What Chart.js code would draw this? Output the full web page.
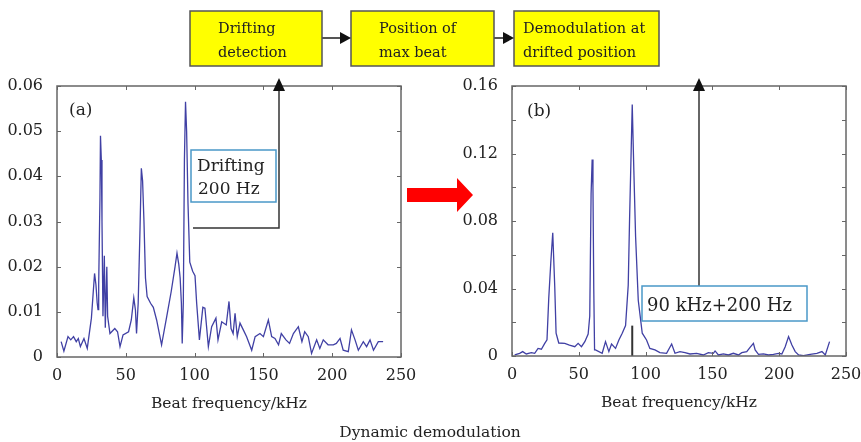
<!DOCTYPE html>
<html lang="en">
<head>
<meta charset="UTF-8">
<title>Dynamic demodulation</title>
<script src="https://cdn.jsdelivr.net/npm/chart.js"></script>
<style>
    body { margin: 0; background: #fff; }
    #wrap { position: relative; width: 861px; height: 442px; overflow: hidden; }
    #wrap canvas { position: absolute; }
    #chartA { left: 0; top: 70px; }
    #chartB { left: 430px; top: 70px; }
    #overlay { position: absolute; left: 0; top: 0; pointer-events: none; }
    #overlay text { font-family: 'DejaVu Serif', serif; font-size: 14.5px; fill: #222; }
    #overlay text.note { font-size: 17px; }
</style>
</head>
<body>
<div id="wrap">
    <canvas id="chartA" width="420" height="350"></canvas>
    <canvas id="chartB" width="431" height="350"></canvas>
    <svg id="overlay" width="861" height="442">
        <!-- flow boxes -->
        <rect x="190" y="11" width="132" height="55" fill="#ffff00" stroke="#555" stroke-width="1.5"/>
        <rect x="351" y="11" width="143" height="55" fill="#ffff00" stroke="#555" stroke-width="1.5"/>
        <rect x="514" y="11" width="145" height="55" fill="#ffff00" stroke="#555" stroke-width="1.5"/>
        <text x="218" y="33">Drifting</text>
        <text x="218" y="57">detection</text>
        <text x="379" y="33">Position of</text>
        <text x="379" y="57">max beat</text>
        <text x="523" y="33">Demodulation at</text>
        <text x="523" y="57">drifted position</text>
        <line x1="322" y1="38" x2="341" y2="38" stroke="#555" stroke-width="2"/>
        <polygon points="340,32 351,38 340,44" fill="#111"/>
        <line x1="494" y1="38" x2="504" y2="38" stroke="#555" stroke-width="2"/>
        <polygon points="503,32 514,38 503,44" fill="#111"/>

        <!-- feedback arrows -->
        <polyline points="193,228 279,228 279,90" fill="none" stroke="#333" stroke-width="1.5"/>
        <polygon points="273,91 279,78 285,91" fill="#111"/>
        <line x1="699" y1="286" x2="699" y2="90" stroke="#333" stroke-width="1.5"/>
        <polygon points="693,91 699,78 705,91" fill="#111"/>

        <!-- annotations -->
        <rect x="191" y="150" width="85" height="52" fill="#fff" stroke="#4a98c8" stroke-width="1.5"/>
        <text class="note" x="197" y="171">Drifting</text>
        <text class="note" x="198" y="194">200 Hz</text>
        <rect x="642" y="286" width="165" height="35" fill="#fff" stroke="#4a98c8" stroke-width="1.5"/>
        <text class="note" x="647" y="311" style="font-size:18px">90 kHz+200 Hz</text>
        <text class="note" x="69" y="115">(a)</text>
        <text class="note" x="527" y="116">(b)</text>

        <polygon points="407,188 457,188 457,178 473,195 457,212 457,202 407,202" fill="#ff0000"/>
        <text x="430" y="437" text-anchor="middle" style="font-size:15.5px">Dynamic demodulation</text>
    </svg>
</div>

<script>
// spectrum (a): before correction
const freqA = [3, 5, 8, 10, 12, 14, 15.5, 17, 19.6, 22, 25, 27.3, 28.3, 29.2, 29.8, 30.3, 31.2, 31.6, 32.2, 32.7,
    33.4, 34.4, 35.1, 36.2, 36.8, 38.5, 42, 44, 45.8, 48, 52, 54, 55.8, 57, 57.8, 59, 60.3, 61.3, 62.2, 63.2,
    64.3, 65.5, 68, 70, 72.4, 76, 79.7, 83, 85.8, 87.2, 88.5, 89.5, 90.4, 91, 91.8, 92.6, 93.4, 94.2, 95.2, 96.5,
    98.6, 100.3, 101.5, 103.5, 106, 107.5, 110, 112.4, 115.5, 117, 119.7, 123, 125, 126.5, 128, 129.4, 131, 133, 135.4, 137.8,
    141.5, 144, 147.5, 150, 153.6, 156, 158.4, 161, 163, 166.4, 169, 171.8, 175.4, 178, 180, 182.6, 185, 188.7, 191, 193.5,
    197, 200.8, 203, 205.7, 208, 211.7, 214, 216.6, 219, 222.6, 225, 227.5, 230, 233.5, 237];
const ampA = [0.0034, 0.0013, 0.0045, 0.0038, 0.0045, 0.0034, 0.0041, 0.0023, 0.0041, 0.0019, 0.0086, 0.0185, 0.016, 0.012, 0.0105, 0.016, 0.035, 0.049, 0.0436, 0.03,
    0.009, 0.0224, 0.0065, 0.02, 0.009, 0.0052, 0.0063, 0.0056, 0.0023, 0.0049, 0.0056, 0.0082, 0.0131, 0.0104, 0.0052, 0.0119, 0.028, 0.0418, 0.039, 0.03,
    0.0175, 0.0134, 0.0119, 0.011, 0.0082, 0.0027, 0.0089, 0.0145, 0.02, 0.023, 0.0205, 0.0175, 0.0119, 0.003, 0.012, 0.0436, 0.0565, 0.05, 0.034, 0.021,
    0.019, 0.018, 0.0119, 0.0038, 0.011, 0.0108, 0.0023, 0.0067, 0.0086, 0.0038, 0.0078, 0.0071, 0.0123, 0.0063, 0.0052, 0.0097, 0.0045, 0.0075, 0.006, 0.0045,
    0.0015, 0.0045, 0.0052, 0.0045, 0.0082, 0.0045, 0.0041, 0.0027, 0.0052, 0.0038, 0.003, 0.0052, 0.0067, 0.0034, 0.0056, 0.0045, 0.0008, 0.0038, 0.0019, 0.0038,
    0.0027, 0.0027, 0.003, 0.0041, 0.0015, 0.0012, 0.006, 0.0038, 0.0015, 0.0034, 0.0023, 0.0038, 0.0015, 0.0034, 0.0034];

// spectrum (b): demodulated at drifted position
const freqB = [2, 5.7, 8, 10.7, 14.5, 17, 19.5, 22, 24.5, 26.2, 27.5, 29, 30.5, 32, 33, 35, 39.5, 43, 47, 49.5,
    52, 54.5, 57, 58.2, 59.2, 60, 60.6, 61.2, 61.8, 62.5, 67.5, 70, 72.5, 74.5, 77.5, 80, 82.5, 85, 87, 88,
    90, 91.2, 92.5, 94.5, 97.5, 100.7, 103.2, 107, 110.7, 115.7, 119.5, 122, 125.7, 129.5, 133.2, 138.2, 143.2, 147, 150.7, 152,
    154.5, 158.2, 162, 165.7, 169.5, 172, 175.7, 178.2, 180.7, 182, 184.5, 188.2, 192, 195.7, 199.5, 202, 204.5, 207, 209.5, 212,
    214.5, 218.2, 223.2, 228.2, 232, 234.5, 237.7];
const ampB = [0.0006, 0.0016, 0.0026, 0.0012, 0.002, 0.0016, 0.0045, 0.004, 0.0075, 0.0096, 0.034, 0.055, 0.073, 0.041, 0.0135, 0.0077, 0.0075, 0.0065, 0.0055, 0.0075,
    0.0055, 0.0085, 0.013, 0.0237, 0.096, 0.1165, 0.10, 0.04, 0.0036, 0.0036, 0.0016, 0.0085, 0.0026, 0.0071, 0.0045, 0.0095, 0.0135, 0.018, 0.042, 0.081,
    0.149, 0.11, 0.071, 0.033, 0.0135, 0.0095, 0.0045, 0.0036, 0.002, 0.0016, 0.0071, 0.0016, 0.0026, 0.002, 0.0012, 0.0016, 0.0006, 0.002, 0.0016, 0.003,
    0.0006, 0.0012, 0.0006, 0.0016, 0.0006, 0.002, 0.0026, 0.0051, 0.0075, 0.0036, 0.001, 0.0012, 0.0006, 0.001, 0.0016, 0.0012, 0.0055, 0.0115, 0.0065, 0.0026,
    0.0006, 0.0002, 0.001, 0.0016, 0.0026, 0.0006, 0.0085];

// marker at the max beat position
const markerX = [90, 90];
const markerY = [0, 0.018];

const xMax = 250, xStep = 50;
const yMaxA = 0.06, yStepA = 0.01;
const yMaxB = 0.16, yStepB = 0.02;

Chart.defaults.font.family = "'DejaVu Serif', serif";
Chart.defaults.color = '#222';

const toPoints = (xs, ys) => xs.map((x, i) => ({ x: x, y: ys[i] }));
const fmt = v => v === 0 ? '0' : v.toFixed(2);

// frame with inward ticks on all four sides
const framePlugin = {
    id: 'frame',
    afterDraw(chart) {
        const { ctx, chartArea: a, scales } = chart;
        ctx.save();
        ctx.strokeStyle = '#666';
        ctx.lineWidth = 1;
        ctx.beginPath();
        scales.x.ticks.forEach(t => {
            const px = Math.round(scales.x.getPixelForValue(t.value)) + 0.5;
            ctx.moveTo(px, a.bottom); ctx.lineTo(px, a.bottom - 4);
            ctx.moveTo(px, a.top); ctx.lineTo(px, a.top + 4);
        });
        scales.y.ticks.forEach(t => {
            const py = Math.round(scales.y.getPixelForValue(t.value)) + 0.5;
            ctx.moveTo(a.left, py); ctx.lineTo(a.left + 4, py);
            ctx.moveTo(a.right, py); ctx.lineTo(a.right - 4, py);
        });
        ctx.stroke();
        ctx.lineWidth = 1.5;
        ctx.strokeRect(a.left, a.top, a.right - a.left, a.bottom - a.top);
        ctx.restore();
    }
};

function makeChart(id, datasets, yMax, yStep, yLabel, pad) {
    return new Chart(document.getElementById(id), {
        type: 'line',
        data: { datasets: datasets },
        options: {
            responsive: false,
            animation: false,
            layout: { padding: pad },
            plugins: { legend: { display: false }, tooltip: { enabled: false } },
            scales: {
                x: {
                    type: 'linear', min: 0, max: xMax,
                    grid: { display: false }, border: { display: false },
                    ticks: { stepSize: xStep, padding: 1, font: { size: 16 }, maxRotation: 0 },
                    title: { display: true, text: 'Beat frequency/kHz', font: { size: 15.5 }, padding: { top: 0, bottom: 4 } },
                    afterFit: s => { s.height = 60; s.paddingLeft = 0; s.paddingRight = 0; }
                },
                y: {
                    min: 0, max: yMax,
                    grid: { display: false }, border: { display: false },
                    ticks: { stepSize: yStep, padding: 6, font: { size: 16 }, autoSkip: false, callback: yLabel },
                    afterFit: s => { s.width = 52; s.paddingTop = 0; s.paddingBottom = 0; }
                }
            }
        },
        plugins: [framePlugin]
    });
}

const lineStyle = { borderColor: '#4040a4', borderWidth: 1.3, pointRadius: 0, tension: 0, fill: false };

makeChart('chartA',
    [Object.assign({ data: toPoints(freqA, ampA) }, lineStyle)],
    yMaxA, yStepA, v => fmt(v),
    { left: 5, right: 19, top: 16, bottom: 3 });

makeChart('chartB',
    [Object.assign({ data: toPoints(freqB, ampB) }, lineStyle),
     { data: toPoints(markerX, markerY), borderColor: '#333', borderWidth: 2, pointRadius: 0 }],
    yMaxB, yStepB, (v, i) => i % 2 ? '' : fmt(v),
    { left: 30, right: 15, top: 16, bottom: 4 });
</script>
</body>
</html>
